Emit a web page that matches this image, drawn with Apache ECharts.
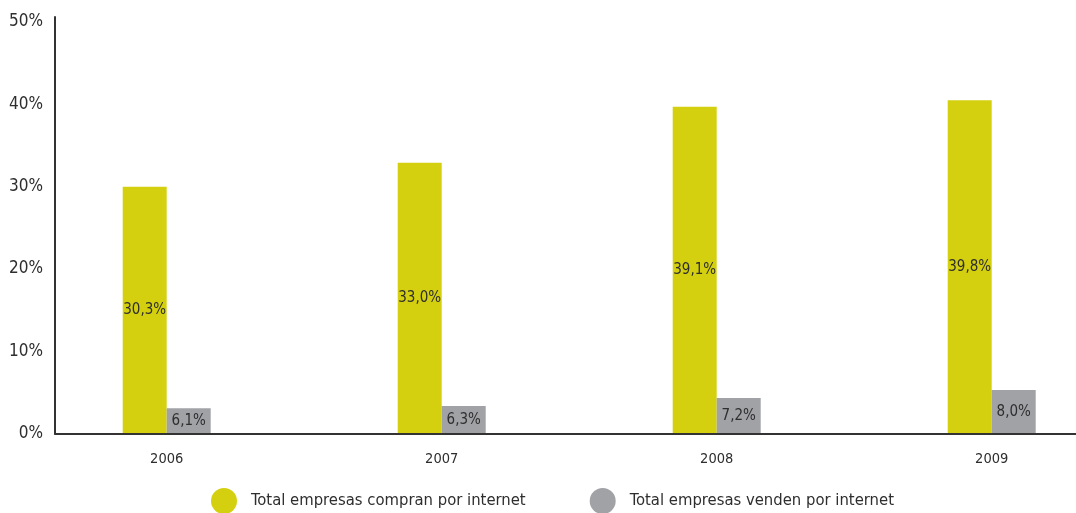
<!DOCTYPE html>
<html>
<head>
<meta charset="utf-8">
<script src="https://cdn.jsdelivr.net/npm/echarts@6/dist/echarts.min.js"></script>
<style>
html,body{margin:0;padding:0;background:#fff;}
#c{width:1076px;height:513px;}
</style>
</head>
<body>
<div id="c"></div>
<script>
const years = ['2006', '2007', '2008', '2009'];
const compranValues = [30.0, 32.9, 39.7, 40.5];
const vendenValues = [3.1, 3.35, 4.35, 5.3];
const compranLabels = ['30,3%', '33,0%', '39,1%', '39,8%'];
const vendenLabels = ['6,1%', '6,3%', '7,2%', '8,0%'];
const yTicks = [0, 10, 20, 30, 40, 50];
const seriesNames = ['Total empresas compran por internet', 'Total empresas venden por internet'];

const FONT = "'DejaVu Sans Condensed', 'Liberation Sans Narrow', 'Roboto', sans-serif";
const TXT = '#2e2e2e';
const YMAX = 50.6;

const chart = echarts.init(document.getElementById('c'), null, {renderer: 'canvas'});
chart.setOption({
  animation: false,
  textStyle: {fontFamily: FONT},
  grid: [
    {left: 166.7, right: 84.3, top: 17, bottom: 79.3},
    {left: 55, right: 0, top: 17, bottom: 79.3}
  ],
  legend: {
    left: 211, top: 488, padding: 0,
    itemWidth: 26, itemHeight: 26, itemGap: 64,
    icon: 'circle',
    textStyle: {fontFamily: FONT, fontSize: 16.5, color: TXT, padding: [0, 0, 0, 9]},
    data: seriesNames
  },
  xAxis: [
    {
      type: 'category', gridIndex: 0, data: years, boundaryGap: false,
      axisLine: {show: false}, axisTick: {show: false}, splitLine: {show: false},
      axisLabel: {fontFamily: FONT, fontSize: 14.5, color: TXT, margin: 18}
    },
    {
      type: 'value', gridIndex: 1, min: 0, max: 1, z: 5,
      axisLine: {show: true, lineStyle: {color: '#333', width: 2}},
      axisTick: {show: false}, axisLabel: {show: false}, splitLine: {show: false}
    }
  ],
  yAxis: [
    {
      type: 'value', gridIndex: 0, min: 0, max: YMAX, show: false,
      splitLine: {show: false}
    },
    {
      type: 'value', gridIndex: 1, min: 0, max: YMAX, interval: 10, z: 5,
      axisLine: {show: true, lineStyle: {color: '#333', width: 2}},
      axisTick: {show: false}, splitLine: {show: false},
      axisLabel: {
        fontFamily: FONT, fontSize: 17, color: TXT, margin: 12,
        formatter: v => (yTicks.indexOf(Math.round(v * 100) / 100) >= 0 ? v + '%' : '')
      }
    }
  ],
  series: [
    {
      name: seriesNames[0], type: 'bar', xAxisIndex: 0, yAxisIndex: 0,
      data: compranValues, barWidth: 44, barGap: '0%',
      itemStyle: {color: '#D4D00F'},
      label: {
        show: true, position: 'inside', fontFamily: FONT, fontSize: 15, color: TXT,
        formatter: p => compranLabels[p.dataIndex]
      }
    },
    {
      name: seriesNames[1], type: 'bar', xAxisIndex: 0, yAxisIndex: 0,
      data: vendenValues, barWidth: 44, barGap: '0%',
      itemStyle: {color: '#A1A2A6'},
      label: {
        show: true, position: 'inside', fontFamily: FONT, fontSize: 15, color: TXT,
        formatter: p => vendenLabels[p.dataIndex]
      }
    }
  ]
});
</script>
</body>
</html>
